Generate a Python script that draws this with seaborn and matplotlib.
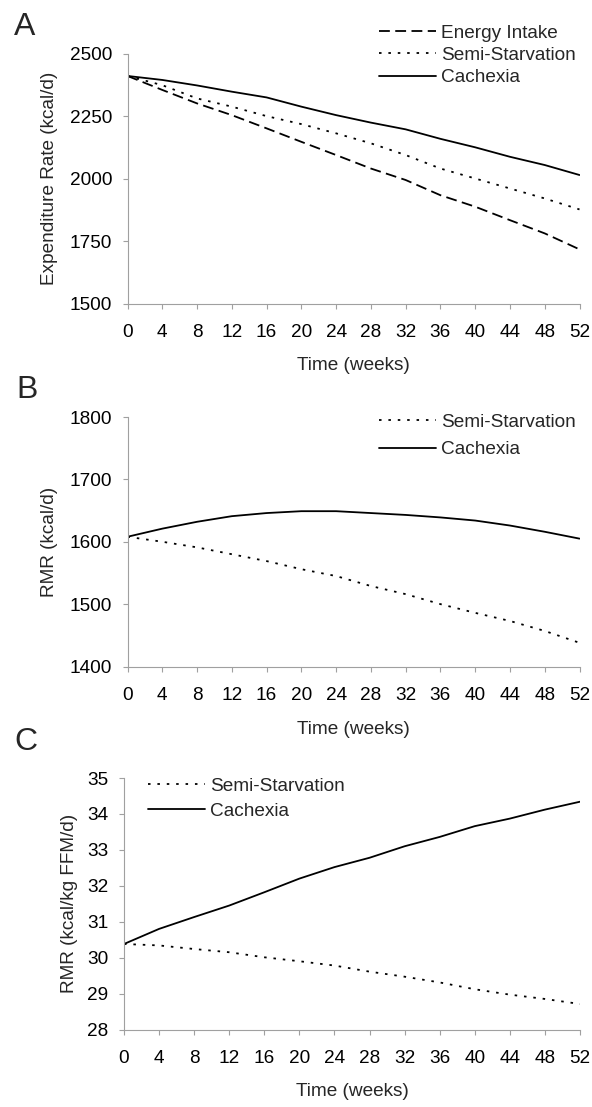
import matplotlib
matplotlib.use("Agg")
import matplotlib.pyplot as plt
import pandas as pd
import seaborn as sns

# ---- data ----
weeks = [0, 4, 8, 12, 16, 20, 24, 28, 32, 36, 40, 44, 48, 52]
week_ticks = list(range(0, 53, 4))

# panel A: expenditure rate (kcal/d)
ee_energy_intake = [2412, 2356, 2302, 2255, 2202, 2148, 2095, 2041, 1995, 1934, 1888, 1834, 1781, 1717]
ee_semi_starvation = [2412, 2375, 2322, 2289, 2251, 2219, 2182, 2142, 2095, 2041, 2001, 1961, 1921, 1877]
ee_cachexia = [2412, 2396, 2374, 2349, 2326, 2289, 2255, 2225, 2198, 2160, 2126, 2088, 2055, 2015]

# panel B: RMR (kcal/d)
rmr_semi_starvation = [1608, 1600, 1591, 1580, 1569, 1556, 1545, 1529, 1516, 1500, 1486, 1473, 1457, 1438]
rmr_cachexia = [1608, 1621, 1632, 1641, 1646, 1649, 1649, 1646, 1643, 1639, 1634, 1626, 1616, 1605]

# panel C: RMR per kg fat free mass (kcal/kg FFM/d)
rmr_ffm_semi_starvation = [30.38, 30.34, 30.24, 30.15, 30.01, 29.90, 29.78, 29.61, 29.47, 29.31, 29.12, 28.97, 28.85, 28.71]
rmr_ffm_cachexia = [30.38, 30.80, 31.13, 31.45, 31.82, 32.20, 32.52, 32.78, 33.10, 33.36, 33.66, 33.87, 34.12, 34.34]

W, H = 592, 1107
FS = 13.7
GREY = "#a0a0a0"

sns.set_style("ticks")
plt.rcParams["font.family"] = ["Liberation Sans", "DejaVu Sans"]
plt.rcParams["axes.edgecolor"] = GREY

line_dashes = {
    "Energy Intake": (6.0, 3.0),
    "Semi-Starvation": (1.4, 3.8),
    "Cachexia": "",
}


def box(left, top, right, bottom):
    """pixel box -> figure fraction rect"""
    return [left / W, 1 - bottom / H, (right - left) / W, (bottom - top) / H]


def long_frame(series):
    parts = []
    for name, vals in series.items():
        parts.append(pd.DataFrame({"week": weeks, "value": vals, "series": name}))
    return pd.concat(parts, ignore_index=True)


def draw_panel(fig, rect, series, ylim, yticks, ylabel, ylabel_x,
               legend_xy, labelspacing):
    ax = fig.add_axes(box(*rect))
    df = long_frame(series)
    names = list(series.keys())
    sns.lineplot(
        data=df, x="week", y="value", hue="series", style="series",
        hue_order=names, style_order=names,
        palette=["black"] * len(names),
        dashes={n: line_dashes[n] for n in names},
        linewidth=1.3, ax=ax,
    )
    ax.set_xlim(0, 52)
    ax.set_xticks(week_ticks)
    ax.set_ylim(*ylim)
    ax.set_yticks(yticks)
    sns.despine(ax=ax)
    for side in ("left", "bottom"):
        ax.spines[side].set_linewidth(0.8)
        ax.spines[side].set_color(GREY)
    ax.tick_params(axis="both", direction="out", length=3.6, width=0.8,
                   color=GREY, labelsize=FS, labelcolor="black")
    ax.tick_params(axis="x", pad=11)
    ax.tick_params(axis="y", pad=7.5)

    ax.set_xlabel("Time (weeks)", fontsize=FS)
    ax.set_ylabel(ylabel, fontsize=FS)
    left, top, right, bottom = rect
    # x label sits ~54 px under the axis in every panel
    ax.xaxis.set_label_coords((left + right) / 2 / W, 1 - (bottom + 54) / H,
                              transform=fig.transFigure)
    ax.yaxis.set_label_coords(ylabel_x / W, 1 - (top + bottom) / 2 / H,
                              transform=fig.transFigure)

    sns.move_legend(
        ax, "upper left",
        bbox_to_anchor=(legend_xy[0] / W, 1 - legend_xy[1] / H),
        bbox_transform=fig.transFigure,
        title=None, frameon=False, borderpad=0, borderaxespad=0,
        handlelength=3.0, handletextpad=0.27, labelspacing=labelspacing,
        fontsize=FS,
    )
    return ax


fig = plt.figure(figsize=(W / 100, H / 100), dpi=100)

draw_panel(
    fig, (127.5, 54, 579.5, 303.5),
    {"Energy Intake": ee_energy_intake,
     "Semi-Starvation": ee_semi_starvation,
     "Cachexia": ee_cachexia},
    (1500, 2500), [1500, 1750, 2000, 2250, 2500],
    "Expenditure Rate (kcal/d)", 58,
    (379, 24.5), 0.26,
)

draw_panel(
    fig, (127.5, 417, 579.5, 666.5),
    {"Semi-Starvation": rmr_semi_starvation,
     "Cachexia": rmr_cachexia},
    (1400, 1800), [1400, 1500, 1600, 1700, 1800],
    "RMR (kcal/d)", 58,
    (379, 413.5), 0.53,
)

draw_panel(
    fig, (124, 778, 580, 1029.5),
    {"Semi-Starvation": rmr_ffm_semi_starvation,
     "Cachexia": rmr_ffm_cachexia},
    (28, 35), list(range(28, 36)),
    "RMR (kcal/kg FFM/d)", 78,
    (148, 777.5), 0.42,
)

for letter, x, y in [("A", 14, 35), ("B", 16, 398), ("C", 14, 750)]:
    fig.text(x / W, 1 - y / H, letter, fontsize=23, ha="left", va="baseline")

fig.savefig("out.png", dpi=100)
plt.close(fig)
